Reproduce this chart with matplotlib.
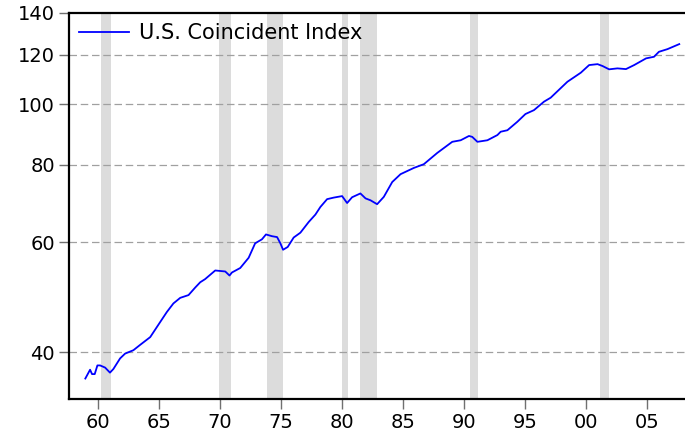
import numpy as np
import matplotlib.pyplot as plt
from matplotlib.ticker import FixedLocator, NullLocator

# values (year, index level)
years = [1958.98, 1959.37, 1959.53, 1959.75, 1959.97, 1960.19, 1960.6, 1961.0, 1961.28,
         1961.83, 1962.24, 1962.92, 1963.47, 1964.3, 1965.11, 1965.66, 1966.2, 1966.76,
         1967.44, 1967.99, 1968.4, 1968.8, 1969.63, 1970.04, 1970.45, 1970.8, 1971.0,
         1971.68, 1972.37, 1972.9, 1973.46, 1973.79, 1974.28, 1974.7, 1974.97, 1975.19,
         1975.57, 1976.06, 1976.61, 1977.29, 1977.84, 1978.25, 1978.8, 1979.34, 1980.03,
         1980.44, 1980.85, 1981.53, 1981.95, 1982.36, 1982.9, 1983.45, 1984.14, 1984.82,
         1985.91, 1986.73, 1987.83, 1989.06, 1989.75, 1990.43, 1990.7, 1991.12, 1991.94,
         1992.76, 1993.03, 1993.58, 1994.4, 1995.06, 1995.76, 1996.58, 1997.13, 1998.5,
         1999.6, 2000.28, 2000.97, 2001.38, 2001.92, 2002.6, 2003.3, 2003.97, 2004.95,
         2005.6, 2006.0, 2006.7, 2007.67]
index = [36.3, 37.5, 36.9, 36.9, 38.1, 38.1, 37.8, 37.1, 37.6,
         39.1, 39.8, 40.3, 41.1, 42.3, 44.7, 46.4, 47.9, 48.9,
         49.4, 50.8, 51.8, 52.4, 54.1, 54.0, 53.9, 53.1, 53.7,
         54.6, 56.7, 59.8, 60.7, 61.8, 61.4, 61.2, 59.8, 58.4,
         59.0, 61.1, 62.2, 64.7, 66.5, 68.4, 70.4, 70.8, 71.2,
         69.4, 70.9, 71.9, 70.6, 70.1, 69.1, 71.0, 75.0, 77.2,
         79.0, 80.1, 83.5, 87.0, 87.5, 88.9, 88.6, 87.0, 87.5,
         89.2, 90.3, 90.8, 93.7, 96.4, 97.8, 100.9, 102.4, 108.6,
         112.3, 115.5, 115.9, 115.1, 113.7, 114.1, 113.8, 115.5, 118.4,
         119.1, 121.3, 122.5, 124.8]

# NBER recessions (start, end)
rec_start = [1960.3, 1969.92, 1973.88, 1980.0, 1981.5, 1990.5, 2001.2]
rec_end = [1961.1, 1970.9, 1975.2, 1980.55, 1982.9, 1991.2, 2001.9]

yticks = [40, 60, 80, 100, 120, 140]
xticks = [1960, 1965, 1970, 1975, 1980, 1985, 1990, 1995, 2000, 2005]
xlabels = ['60', '65', '70', '75', '80', '85', '90', '95', '00', '05']

plt.rcParams['font.family'] = ['DejaVu Sans']
plt.rcParams['font.size'] = 14

fig = plt.figure(figsize=(6.85, 4.37), dpi=100)
ax = fig.add_axes([0.1007, 0.087, 0.8993, 0.8833])

for s, e in zip(rec_start, rec_end):
    ax.axvspan(s, e, color='#dcdcdc', lw=0, zorder=0)

ax.plot(years, index, color='#0000ff', lw=1.3, label='U.S. Coincident Index', zorder=3)

ax.set_yscale('log')
ax.set_ylim(33.66, 140)
ax.set_xlim(1957.64, 2008.14)
ax.yaxis.set_major_locator(FixedLocator(yticks))
ax.yaxis.set_minor_locator(NullLocator())
ax.set_yticklabels([str(t) for t in yticks])
ax.set_xticks(xticks)
ax.set_xticklabels(xlabels)

for t in yticks[:-1]:
    ax.axhline(t, color='#a0a0a0', lw=0.9, ls=(0, (6, 3)), zorder=1)

ax.spines['right'].set_visible(False)
for side in ['left', 'bottom', 'top']:
    ax.spines[side].set_linewidth(1.6)
ax.tick_params(axis='both', direction='out', length=7, width=1, color='#707070', pad=3)

leg = ax.legend(loc='upper left', frameon=False, fontsize=15, handlelength=2.4,
                handletextpad=0.45, borderaxespad=0.1, bbox_to_anchor=(0.0, 1.0))

fig.savefig('out.png', dpi=100)
